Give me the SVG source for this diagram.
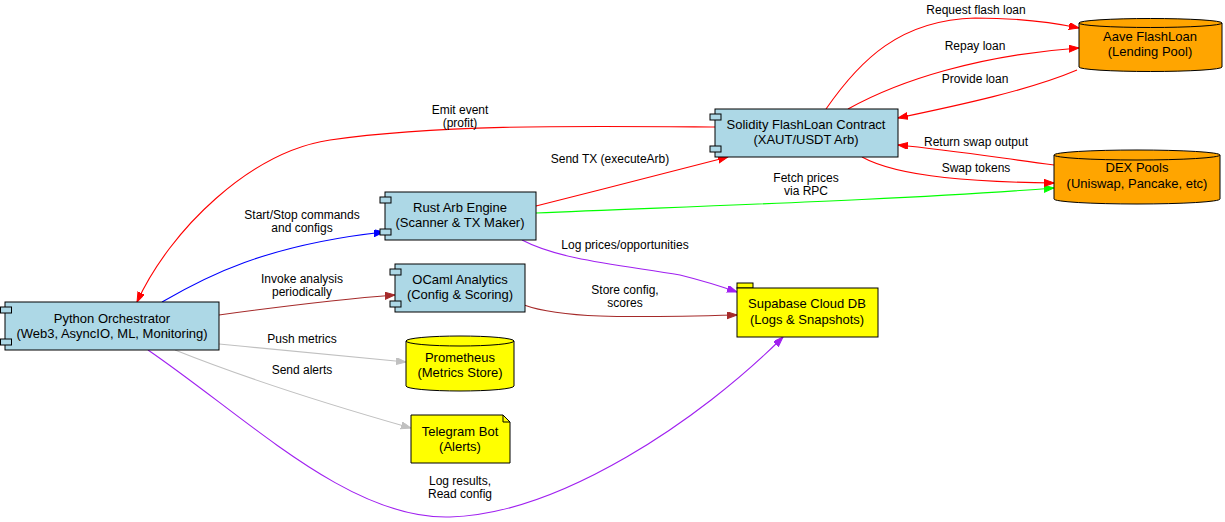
<svg xmlns="http://www.w3.org/2000/svg" width="1225" height="522" viewBox="0 0 1225 522">
<style>
text{font-family:"Liberation Sans",Arial,sans-serif;fill:#000}
.n{font-size:13px;text-anchor:middle}
.l{font-size:12px;text-anchor:middle}
.box{stroke:#000;stroke-width:1}
.blue{fill:#add8e6}
.org{fill:#ffa500}
.yel{fill:#ffff00}
.e{fill:none;stroke-width:1.1}
</style>
<defs>
<marker id="ar" markerUnits="userSpaceOnUse" markerWidth="11" markerHeight="8" refX="10" refY="3.5" orient="auto"><path d="M0,0 L10,3.5 L0,7 z" fill="#ff0000" stroke="#ff0000"/></marker>
<marker id="ab" markerUnits="userSpaceOnUse" markerWidth="11" markerHeight="8" refX="10" refY="3.5" orient="auto"><path d="M0,0 L10,3.5 L0,7 z" fill="#0000ff" stroke="#0000ff"/></marker>
<marker id="ag" markerUnits="userSpaceOnUse" markerWidth="11" markerHeight="8" refX="10" refY="3.5" orient="auto"><path d="M0,0 L10,3.5 L0,7 z" fill="#00ff00" stroke="#00ff00"/></marker>
<marker id="ap" markerUnits="userSpaceOnUse" markerWidth="11" markerHeight="8" refX="10" refY="3.5" orient="auto"><path d="M0,0 L10,3.5 L0,7 z" fill="#a020f0" stroke="#a020f0"/></marker>
<marker id="abr" markerUnits="userSpaceOnUse" markerWidth="11" markerHeight="8" refX="10" refY="3.5" orient="auto"><path d="M0,0 L10,3.5 L0,7 z" fill="#a52a2a" stroke="#a52a2a"/></marker>
<marker id="agr" markerUnits="userSpaceOnUse" markerWidth="11" markerHeight="8" refX="10" refY="3.5" orient="auto"><path d="M0,0 L10,3.5 L0,7 z" fill="#c0c0c0" stroke="#c0c0c0"/></marker>
</defs>

<g id="connectors">
<path class="e" stroke="#0000ff" marker-end="url(#ab)" d="M162,302 C205,277 265,245 384,232"/>
<text class="l" x="302" y="219">Start/Stop commands</text>
<text class="l" x="302" y="232">and configs</text>

<path class="e" stroke="#a52a2a" marker-end="url(#abr)" d="M219,315 C270,308 330,300 395,295"/>
<text class="l" x="302" y="283">Invoke analysis</text>
<text class="l" x="302" y="296">periodically</text>

<path class="e" stroke="#c0c0c0" marker-end="url(#agr)" d="M219,344 C280,350 340,356 406,362"/>
<text class="l" x="302" y="343">Push metrics</text>

<path class="e" stroke="#c0c0c0" marker-end="url(#agr)" d="M175,350 C250,380 330,405 411,428"/>
<text class="l" x="302" y="374">Send alerts</text>

<path class="e" stroke="#a020f0" marker-end="url(#ap)" d="M148,350 C250,420 350,520 450,517 C560,514 700,420 783,337"/>
<text class="l" x="460" y="485">Log results,</text>
<text class="l" x="460" y="498">Read config</text>

<path class="e" stroke="#ff0000" marker-end="url(#ar)" d="M715,127 C580,126 440,124 330,140 C250,152 170,230 137,302"/>
<text class="l" x="460" y="114">Emit event</text>
<text class="l" x="460" y="127">(profit)</text>

<path class="e" stroke="#ff0000" marker-end="url(#ar)" d="M536,206 C600,190 670,172 728,157"/>
<text class="l" x="610" y="163">Send TX (executeArb)</text>

<path class="e" stroke="#00ff00" marker-end="url(#ag)" d="M536,213 C700,206 900,200 1054,188"/>
<text class="l" x="806" y="182">Fetch prices</text>
<text class="l" x="806" y="195">via RPC</text>

<path class="e" stroke="#a020f0" marker-end="url(#ap)" d="M522,240 C560,260 620,265 680,275 C700,280 720,286 737,292"/>
<text class="l" x="625" y="249">Log prices/opportunities</text>

<path class="e" stroke="#a52a2a" marker-end="url(#abr)" d="M524,305 C560,318 620,318 737,315"/>
<text class="l" x="625" y="294">Store config,</text>
<text class="l" x="625" y="307">scores</text>

<path class="e" stroke="#ff0000" marker-end="url(#ar)" d="M826,109 C860,60 900,20 975,18 C1010,18 1050,22 1079,28"/>
<text class="l" x="976" y="14">Request flash loan</text>

<path class="e" stroke="#ff0000" marker-end="url(#ar)" d="M848,109 C900,80 980,55 1079,48"/>
<text class="l" x="975" y="50">Repay loan</text>

<path class="e" stroke="#ff0000" marker-end="url(#ar)" d="M1077,70 C1030,90 960,105 898,118"/>
<text class="l" x="975" y="83">Provide loan</text>

<path class="e" stroke="#ff0000" marker-end="url(#ar)" d="M1054,165 C1000,158 950,150 898,145"/>
<text class="l" x="976" y="146">Return swap output</text>

<path class="e" stroke="#ff0000" marker-end="url(#ar)" d="M862,157 C900,178 980,182 1054,183"/>
<text class="l" x="976" y="172">Swap tokens</text>
</g>

<g id="python">
<rect class="box blue" x="5" y="302" width="214" height="48"/>
<rect class="box blue" x="0.5" y="307" width="11" height="6"/>
<rect class="box blue" x="0.5" y="339" width="11" height="6"/>
<text class="n" x="112" y="323">Python Orchestrator</text>
<text class="n" x="112" y="338">(Web3, AsyncIO, ML, Monitoring)</text>
</g>

<g id="rust">
<rect class="box blue" x="385" y="192" width="151" height="48"/>
<rect class="box blue" x="380" y="197" width="11" height="6"/>
<rect class="box blue" x="380" y="229" width="11" height="6"/>
<text class="n" x="460" y="212">Rust Arb Engine</text>
<text class="n" x="460" y="227">(Scanner &amp; TX Maker)</text>
</g>

<g id="ocaml">
<rect class="box blue" x="395" y="264" width="130" height="48"/>
<rect class="box blue" x="390" y="269" width="11" height="6"/>
<rect class="box blue" x="390" y="301" width="11" height="6"/>
<text class="n" x="460" y="284">OCaml Analytics</text>
<text class="n" x="460" y="299">(Config &amp; Scoring)</text>
</g>

<g id="prometheus">
<path class="box yel" d="M406,341 A54,5 0 0 1 514,341 L514,386 A54,5 0 0 1 406,386 Z"/>
<path class="box" fill="none" d="M406,341 A54,5 0 0 0 514,341"/>
<text class="n" x="460" y="362">Prometheus</text>
<text class="n" x="460" y="377">(Metrics Store)</text>
</g>

<g id="telegram">
<path class="box yel" d="M411,415 L503,415 L510,422 L510,463 L411,463 Z"/>
<path class="box" fill="none" d="M503,415 L503,422 L510,422"/>
<text class="n" x="460" y="436">Telegram Bot</text>
<text class="n" x="460" y="451">(Alerts)</text>
</g>

<g id="solidity">
<rect class="box blue" x="715" y="109" width="183" height="48"/>
<rect class="box blue" x="710" y="114" width="11" height="6"/>
<rect class="box blue" x="710" y="146" width="11" height="6"/>
<text class="n" x="806" y="129">Solidity FlashLoan Contract</text>
<text class="n" x="806" y="144">(XAUT/USDT Arb)</text>
</g>

<g id="supabase">
<rect class="box yel" x="737" y="283" width="16" height="5"/>
<rect class="box yel" x="737" y="288" width="141" height="49"/>
<text class="n" x="807" y="308">Supabase Cloud DB</text>
<text class="n" x="807" y="324">(Logs &amp; Snapshots)</text>
</g>

<g id="aave">
<path class="box org" d="M1079,23 A71.5,4.5 0 0 1 1222,23 L1222,67 A71.5,4.5 0 0 1 1079,67 Z"/>
<path class="box" fill="none" d="M1079,23 A71.5,4.5 0 0 0 1222,23"/>
<text class="n" x="1150" y="41">Aave FlashLoan</text>
<text class="n" x="1150" y="56">(Lending Pool)</text>
</g>

<g id="dex">
<path class="box org" d="M1054,155 A83,5 0 0 1 1220,155 L1220,199 A83,5 0 0 1 1054,199 Z"/>
<path class="box" fill="none" d="M1054,155 A83,5 0 0 0 1220,155"/>
<text class="n" x="1137" y="172">DEX Pools</text>
<text class="n" x="1137" y="188">(Uniswap, Pancake, etc)</text>
</g>
</svg>
